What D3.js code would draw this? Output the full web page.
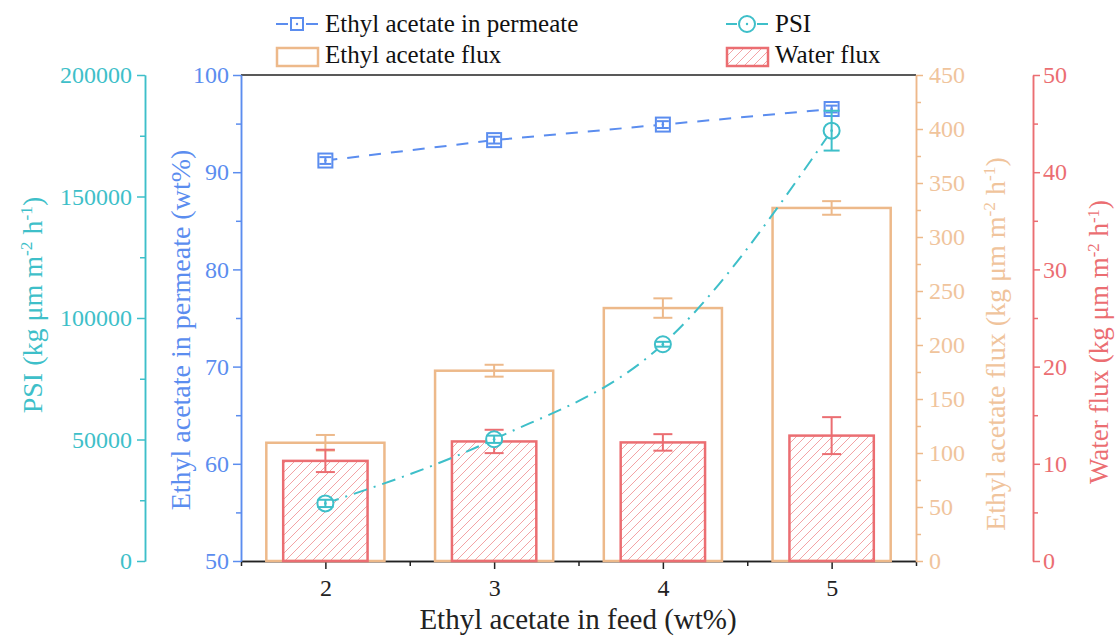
<!DOCTYPE html>
<html><head><meta charset="utf-8">
<script src="https://cdn.jsdelivr.net/npm/d3@7"></script>
<style>
body{margin:0;background:#fff}
svg{display:block;font-family:"Liberation Serif","Times New Roman",serif}
</style>
</head><body>
<svg id="c" width="1118" height="637"></svg>
<script>
// ---- data ----
const feed = [2, 3, 4, 5];
const permeate = [91.2, 93.3, 94.9, 96.5];
const permeateErr = [0.35, 0.35, 0.35, 0.35];
const psi = [23700, 50100, 89200, 177100];
const psiErr = [1500, 1500, 1000, 8200];
const eaFlux = [109.5, 176.2, 234.2, 326.9];
const eaFluxErr = [7.2, 5.5, 9.0, 6.3];
const waterFlux = [10.3, 12.3, 12.2, 12.9];
const waterFluxErr = [1.15, 1.2, 0.85, 1.9];
const xTicks = [2, 3, 4, 5];
const permTicks = [50, 60, 70, 80, 90, 100];
const psiTicks = [0, 50000, 100000, 150000, 200000];
const eaTicks = [0, 50, 100, 150, 200, 250, 300, 350, 400, 450];
const waterTicks = [0, 10, 20, 30, 40, 50];

// ---- colours ----
const cBlue = "#5B8DEF", cTeal = "#3EBFC9", cOrange = "#EDB98A", cOrangeTxt = "#F0C49C",
      cRed = "#EB6E72", cHatch = "#F3A3A5";
const serif = '"Liberation Serif","Times New Roman",serif';

const svg = d3.select("#c");
const L = 241, R = 916, T = 75, B = 561;
const x = d3.scaleLinear().domain([1.5, 5.5]).range([L, R]);
const yP = d3.scaleLinear().domain([50, 100]).range([B, T]);
const yS = d3.scaleLinear().domain([0, 200000]).range([B, T]);
const yE = d3.scaleLinear().domain([0, 450]).range([B, T]);
const yW = d3.scaleLinear().domain([0, 50]).range([B, T]);

// hatch pattern
const defs = svg.append("defs");
const pat = defs.append("pattern").attr("id", "hatch").attr("patternUnits", "userSpaceOnUse")
  .attr("width", 9).attr("height", 9);
pat.append("path").attr("d", "M-2,2 L2,-2 M0,9 L9,0 M7,11 L11,7")
  .attr("stroke", cHatch).attr("stroke-width", 1);

// ---- axes ----
function styleAxis(g, color, txtColor, size) {
  g.attr("font-family", serif);
  g.selectAll("path.domain").attr("stroke", color).attr("stroke-width", 1.5);
  g.selectAll(".tick line").attr("stroke", color).attr("stroke-width", 1.5);
  g.selectAll(".tick text").attr("fill", txtColor).attr("font-size", size).attr("font-family", serif);
}
function minor(ticks) {
  const m = [];
  for (let i = 0; i < ticks.length - 1; i++) m.push((ticks[i] + ticks[i + 1]) / 2);
  return m;
}

// frame top
svg.append("line").attr("x1", L).attr("x2", R).attr("y1", T).attr("y2", T)
  .attr("stroke", "#222").attr("stroke-width", 1.5);

// bottom x axis
const gxm = svg.append("g").attr("transform", `translate(0,${B})`)
  .call(d3.axisBottom(x).tickValues([1.5, ...minor(xTicks), 5.5]).tickSize(5).tickFormat("").tickSizeOuter(0));
styleAxis(gxm, "#222", "#222", 24);
const gx = svg.append("g").attr("transform", `translate(0,${B})`)
  .call(d3.axisBottom(x).tickValues(xTicks).tickSize(8).tickPadding(10).tickFormat(d3.format("d")).tickSizeOuter(0));
styleAxis(gx, "#222", "#222", 24);

// blue left axis
const gpm = svg.append("g").attr("transform", `translate(${L},0)`)
  .call(d3.axisLeft(yP).tickValues(minor(permTicks)).tickSize(5).tickFormat("").tickSizeOuter(0));
styleAxis(gpm, cBlue, cBlue, 24);
const gp = svg.append("g").attr("transform", `translate(${L},0)`)
  .call(d3.axisLeft(yP).tickValues(permTicks).tickSize(8).tickPadding(4).tickSizeOuter(0));
styleAxis(gp, cBlue, cBlue, 24);

// teal PSI axis
const xPsiAxis = 145;
const gsm = svg.append("g").attr("transform", `translate(${xPsiAxis},0)`)
  .call(d3.axisLeft(yS).tickValues(minor(psiTicks)).tickSize(5).tickFormat("").tickSizeOuter(0));
styleAxis(gsm, cTeal, cTeal, 24);
const gs = svg.append("g").attr("transform", `translate(${xPsiAxis},0)`)
  .call(d3.axisLeft(yS).tickValues(psiTicks).tickSize(8).tickPadding(5).tickFormat(d3.format("d")).tickSizeOuter(0));
styleAxis(gs, cTeal, cTeal, 24);

// orange right axis
const gem = svg.append("g").attr("transform", `translate(${R},0)`)
  .call(d3.axisRight(yE).tickValues(minor(eaTicks)).tickSize(5).tickFormat("").tickSizeOuter(0));
styleAxis(gem, cOrange, cOrangeTxt, 24);
const ge = svg.append("g").attr("transform", `translate(${R},0)`)
  .call(d3.axisRight(yE).tickValues(eaTicks).tickSize(7).tickPadding(6).tickSizeOuter(0));
styleAxis(ge, cOrange, cOrangeTxt, 24);

// red water axis
const xWAxis = 1033;
const gwm = svg.append("g").attr("transform", `translate(${xWAxis},0)`)
  .call(d3.axisRight(yW).tickValues(minor(waterTicks)).tickSize(5).tickFormat("").tickSizeOuter(0));
styleAxis(gwm, cRed, cRed, 24);
const gw = svg.append("g").attr("transform", `translate(${xWAxis},0)`)
  .call(d3.axisRight(yW).tickValues(waterTicks).tickSize(7).tickPadding(3).tickSizeOuter(0));
styleAxis(gw, cRed, cRed, 24);

// ---- titles ----
function unitTitle(g, prefix) {
  g.append("tspan").text(prefix + " (kg μm m");
  g.append("tspan").text("-2").attr("font-size", "0.62em").attr("dy", "-0.55em");
  g.append("tspan").text(" h").attr("dy", "0.34em");
  g.append("tspan").text("-1").attr("font-size", "0.62em").attr("dy", "-0.55em");
  g.append("tspan").text(")").attr("dy", "0.34em");
}
const tPsi = svg.append("text").attr("transform", "translate(32,305) rotate(-90)")
  .attr("text-anchor", "middle").attr("dy", "0.35em").attr("font-size", 28).attr("fill", cTeal);
unitTitle(tPsi, "PSI");
svg.append("text").attr("transform", "translate(180,330) rotate(-90)")
  .attr("text-anchor", "middle").attr("dy", "0.35em").attr("font-size", 28).attr("fill", cBlue)
  .text("Ethyl acetate in permeate (wt%)");
const tEa = svg.append("text").attr("transform", "translate(995,344) rotate(-90)")
  .attr("text-anchor", "middle").attr("dy", "0.35em").attr("font-size", 28).attr("fill", cOrangeTxt);
unitTitle(tEa, "Ethyl acetate flux");
const tW = svg.append("text").attr("transform", "translate(1099,342) rotate(-90)")
  .attr("text-anchor", "middle").attr("dy", "0.35em").attr("font-size", 27).attr("fill", cRed);
unitTitle(tW, "Water flux");
svg.append("text").attr("x", 578).attr("y", 629).attr("text-anchor", "middle")
  .attr("font-size", 29).attr("fill", "#222").text("Ethyl acetate in feed (wt%)");

// ---- bars ----
const eaW = x(0.7) - x(0), wW = x(0.5) - x(0);
svg.append("g").selectAll("rect").data(feed).join("rect")
  .attr("x", (d) => x(d) - eaW / 2).attr("width", eaW)
  .attr("y", (d, i) => yE(eaFlux[i])).attr("height", (d, i) => B - yE(eaFlux[i]))
  .attr("fill", "none").attr("stroke", cOrange).attr("stroke-width", 2.5);
svg.append("g").selectAll("rect").data(feed).join("rect")
  .attr("x", (d) => x(d) - wW / 2).attr("width", wW)
  .attr("y", (d, i) => yW(waterFlux[i])).attr("height", (d, i) => B - yW(waterFlux[i]))
  .attr("fill", "url(#hatch)").attr("stroke", cRed).attr("stroke-width", 2.5);

// error bars helper
function errBars(vals, errs, scale, color, cap) {
  const g = svg.append("g").attr("stroke", color).attr("stroke-width", 2).attr("fill", "none");
  feed.forEach((d, i) => {
    const cx = x(d), y1 = scale(vals[i] + errs[i]), y2 = scale(vals[i] - errs[i]);
    g.append("line").attr("x1", cx).attr("x2", cx).attr("y1", y1).attr("y2", y2);
    g.append("line").attr("x1", cx - cap / 2).attr("x2", cx + cap / 2).attr("y1", y1).attr("y2", y1);
    g.append("line").attr("x1", cx - cap / 2).attr("x2", cx + cap / 2).attr("y1", y2).attr("y2", y2);
  });
}
errBars(eaFlux, eaFluxErr, yE, cOrange, 19);
errBars(waterFlux, waterFluxErr, yW, cRed, 19);

// ---- lines ----
svg.append("path").datum(feed)
  .attr("d", d3.line().x((d) => x(d)).y((d, i) => yP(permeate[i])))
  .attr("fill", "none").attr("stroke", cBlue).attr("stroke-width", 2).attr("stroke-dasharray", "12,10");
svg.append("path").datum(feed)
  .attr("d", d3.line().x((d) => x(d)).y((d, i) => yS(psi[i])).curve(d3.curveMonotoneX))
  .attr("fill", "none").attr("stroke", cTeal).attr("stroke-width", 2).attr("stroke-dasharray", "14,7,2,7");

// markers: permeate squares
const sq = 14;
svg.append("g").selectAll("rect").data(feed).join("rect")
  .attr("x", (d) => x(d) - sq / 2).attr("y", (d, i) => yP(permeate[i]) - sq / 2)
  .attr("width", sq).attr("height", sq).attr("fill", "#fff").attr("stroke", cBlue).attr("stroke-width", 2);
errBars(permeate, permeateErr, yP, cBlue, sq - 2);
svg.append("g").selectAll("circle").data(feed).join("circle")
  .attr("cx", (d) => x(d)).attr("cy", (d, i) => yP(permeate[i])).attr("r", 1.3).attr("fill", cBlue);

// PSI circles
svg.append("g").selectAll("circle").data(feed).join("circle")
  .attr("cx", (d) => x(d)).attr("cy", (d, i) => yS(psi[i])).attr("r", 8)
  .attr("fill", "#fff").attr("stroke", cTeal).attr("stroke-width", 2);
errBars(psi, psiErr, yS, cTeal, 16);
svg.append("g").selectAll("circle").data(feed).join("circle")
  .attr("cx", (d) => x(d)).attr("cy", (d, i) => yS(psi[i])).attr("r", 1.3).attr("fill", cTeal);

// ---- legend ----
const lg = svg.append("g").attr("font-size", 25).attr("fill", "#111").attr("font-family", serif);
lg.append("line").attr("x1", 276).attr("x2", 288).attr("y1", 24).attr("y2", 24).attr("stroke", cBlue).attr("stroke-width", 2);
lg.append("line").attr("x1", 306).attr("x2", 318).attr("y1", 24).attr("y2", 24).attr("stroke", cBlue).attr("stroke-width", 2);
lg.append("rect").attr("x", 291).attr("y", 18).attr("width", 12).attr("height", 12).attr("fill", "#fff").attr("stroke", cBlue).attr("stroke-width", 2);
lg.append("circle").attr("cx", 297).attr("cy", 24).attr("r", 1.2).attr("fill", cBlue);
lg.append("text").attr("x", 325).attr("y", 32).text("Ethyl acetate in permeate");
lg.append("rect").attr("x", 277).attr("y", 48).attr("width", 41).attr("height", 18).attr("fill", "#fff").attr("stroke", cOrange).attr("stroke-width", 2.5);
lg.append("text").attr("x", 325).attr("y", 63).text("Ethyl acetate flux");

lg.append("line").attr("x1", 726).attr("x2", 737).attr("y1", 24).attr("y2", 24).attr("stroke", cTeal).attr("stroke-width", 2);
lg.append("line").attr("x1", 757).attr("x2", 768).attr("y1", 24).attr("y2", 24).attr("stroke", cTeal).attr("stroke-width", 2);
lg.append("circle").attr("cx", 747).attr("cy", 24).attr("r", 8).attr("fill", "#fff").attr("stroke", cTeal).attr("stroke-width", 2);
lg.append("circle").attr("cx", 747).attr("cy", 24).attr("r", 1.2).attr("fill", cTeal);
lg.append("text").attr("x", 775).attr("y", 32).text("PSI");
lg.append("rect").attr("x", 727).attr("y", 48).attr("width", 41).attr("height", 18).attr("fill", "url(#hatch)").attr("stroke", cRed).attr("stroke-width", 2.5);
lg.append("text").attr("x", 775).attr("y", 63).text("Water flux");
</script>
</body></html>
